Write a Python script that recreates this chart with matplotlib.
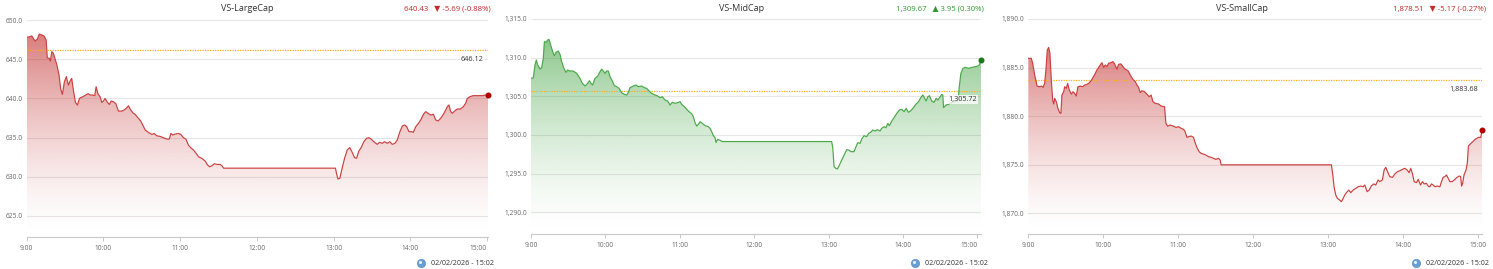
import numpy as np
import matplotlib
matplotlib.use("Agg")
import matplotlib.pyplot as plt
from matplotlib.patches import Polygon
from matplotlib.lines import Line2D

plt.rcParams['font.family'] = ['Open Sans', 'DejaVu Sans']

# ---------------- data (minutes after 09:00, index value) ----------------
names = ["VS-LargeCap", "VS-MidCap", "VS-SmallCap"]
last_price = [640.43, 1309.67, 1878.51]
change = [-5.69, 3.95, -5.17]
change_pct = [-0.88, 0.30, -0.27]
prev_close = [646.12, 1305.72, 1883.68]
y_ticks = [[625, 630, 635, 640, 645, 650],
           [1290, 1295, 1300, 1305, 1310, 1315],
           [1870, 1875, 1880, 1885, 1890]]
y_bottom = [622.32, 1287.19, 1867.84]
x_tick_labels = ["9:00", "10:00", "11:00", "12:00", "13:00", "14:00", "15:00"]
x_tick_minutes = [0, 60, 120, 180, 240, 300, 360]
timestamp = "02/02/2026 - 15:02"

largecap_points = [
    (0, 647.79), (2.5, 647.87), (4, 647.96), (6.5, 647.32), (8.4, 647.57), (9.8, 648.21),
    (11.8, 648.09), (13.6, 647.96), (15.2, 647.45), (16.1, 645.19), (17.7, 645.10), (18.5, 644.77),
    (19.6, 645.96), (20.9, 645.74), (22.1, 645.10), (23.5, 644.34), (25.3, 642.98), (26.6, 641.19),
    (27.9, 640.51), (29.5, 642.13), (31, 642.77), (32.6, 641.70), (33.9, 642.21), (35.2, 642.55),
    (36.5, 641.06), (38.1, 639.49), (39.7, 639.15), (41.2, 640.00), (44.4, 640.26), (46.9, 640.51),
    (48.2, 640.60), (49.6, 640.43), (51.7, 640.43), (53.2, 640.34), (54.3, 641.49), (55.7, 640.60),
    (57.4, 640.21), (58.7, 639.49), (60, 639.66), (61.3, 640.00), (63.2, 639.49), (64.7, 639.23),
    (66, 639.66), (67.9, 639.57), (69.7, 639.32), (71.8, 638.38), (74.4, 638.38), (76.5, 638.55),
    (78.3, 638.81), (79.6, 639.06), (80.9, 638.64), (83, 638.17), (84.8, 637.96), (87.5, 637.45),
    (89.2, 637.11), (90.8, 636.60), (92.7, 635.96), (95.3, 635.66), (97.9, 635.40), (99.7, 635.53),
    (101.7, 635.23), (104.4, 635.15), (107.1, 634.98), (109.6, 634.81), (111.5, 634.81), (112.8, 635.53),
    (114.3, 635.32), (116.1, 635.45), (118.8, 635.53), (120.5, 635.40), (122.7, 634.98), (124.5, 634.81),
    (126.5, 634.04), (128.4, 633.70), (130.5, 633.40), (132.6, 632.98), (134.4, 632.55), (137.1, 632.34),
    (139.6, 632.00), (141.5, 631.49), (143.1, 631.28), (144.8, 631.40), (146.7, 631.66), (148.8, 631.57),
    (151.4, 631.57), (152.7, 631.40), (154, 631.10),
    (241.5, 631.10), (242.3, 630.44), (243.4, 629.72), (244.9, 629.80), (246.7, 631.08), (248.6, 632.36),
    (250.7, 633.42), (252.7, 633.72), (254.6, 633.12), (256.4, 632.44), (258, 632.36), (259.8, 633.29),
    (261.6, 633.72), (263.7, 634.48), (265.8, 634.91), (267.6, 634.99), (269.4, 634.82), (271.5, 634.48),
    (274.1, 634.14), (276.2, 634.40), (278, 634.27), (279.9, 634.48), (282, 634.27), (284, 634.48),
    (285.9, 634.14), (288, 634.27), (289.8, 634.69), (291.9, 635.76), (293.8, 636.48), (295.6, 636.61),
    (297.2, 636.39), (299, 635.76), (300.8, 635.76), (302.4, 635.67), (304.3, 636.39), (306.4, 636.82),
    (308.2, 637.25), (310.3, 637.97), (312.1, 638.31), (314, 638.10), (316, 637.88), (318.1, 637.97),
    (319.9, 637.25), (321.7, 637.12), (323.8, 637.46), (325.9, 637.97), (327.7, 638.52), (329, 638.95),
    (330.3, 639.16), (331.6, 638.31), (332.9, 638.10), (334.7, 638.39), (336.8, 638.65), (339.4, 638.65),
    (341.5, 638.95), (343.3, 639.37), (344.6, 640.00), (346.7, 640.22), (349.3, 640.35), (352.5, 640.35),
    (356.4, 640.35), (359, 640.43), (360.8, 640.43),
]

midcap_points = [
    (0, 1307.32), (1.9, 1307.41), (3.2, 1309.05), (4.3, 1309.70), (5.4, 1309.05), (7.3, 1308.53),
    (8.6, 1308.70), (9.9, 1309.91), (10.8, 1312.07), (12.1, 1311.98), (13.4, 1312.28), (14.5, 1312.37),
    (15.9, 1311.64), (17.5, 1310.77), (18.8, 1310.26), (20.2, 1310.69), (22, 1310.86), (23.4, 1310.43),
    (24.7, 1309.48), (26.6, 1308.62), (28.2, 1308.10), (29.6, 1308.40), (31.5, 1308.27), (34.1, 1308.27),
    (36.8, 1307.97), (39.5, 1307.32), (41.4, 1306.68), (43.6, 1306.33), (45.7, 1306.68), (47.1, 1307.02),
    (48.4, 1306.68), (49.7, 1306.46), (51.6, 1307.32), (53.8, 1307.63), (55.7, 1308.19), (57, 1308.53),
    (58.3, 1308.27), (59.7, 1307.97), (61, 1308.27), (62.4, 1308.27), (63.7, 1307.54), (65.6, 1306.98),
    (67.2, 1306.38), (69.1, 1306.25), (71, 1306.03), (73.1, 1305.47), (75.3, 1305.25), (77.2, 1305.17),
    (78.5, 1305.51), (79.9, 1306.12), (82.5, 1306.33), (84.7, 1306.46), (86.6, 1306.25), (89.3, 1306.33),
    (91.4, 1306.12), (93.3, 1306.03), (95.2, 1305.69), (97.3, 1305.38), (100, 1305.17), (102.2, 1305.04),
    (104.1, 1304.82), (105.9, 1304.95), (108.1, 1304.52), (110.2, 1304.39), (112.1, 1303.87), (114, 1304.22),
    (116.2, 1304.09), (118.3, 1304.18), (120.2, 1304.31), (121.5, 1303.96), (123.7, 1303.66), (125.6, 1303.31),
    (127.5, 1303.01), (129.6, 1302.75), (130.9, 1302.36), (132.3, 1301.59), (133.6, 1301.16), (135, 1301.37),
    (136.3, 1301.72), (138.2, 1301.50), (140.4, 1301.20), (143, 1301.07), (144.4, 1300.86), (145.7, 1300.42),
    (147.1, 1299.91), (148.4, 1299.65), (149.2, 1299.04), (150.6, 1299.43), (152.5, 1299.30), (154.3, 1299.15),
    (242.5, 1299.15), (243.4, 1298.27), (244.4, 1295.90), (245.8, 1295.68), (247.1, 1295.60), (248.7, 1296.11),
    (250.6, 1296.76), (252.5, 1297.41), (254.6, 1298.10), (256.2, 1298.05), (258.1, 1297.84), (260.5, 1297.84),
    (262.1, 1298.48), (263.5, 1299.00), (265.4, 1298.92), (266.7, 1299.48), (268.6, 1299.91), (270.7, 1299.78),
    (272.3, 1300.21), (273.9, 1300.34), (275.6, 1300.64), (277.4, 1300.51), (279.3, 1300.68), (281.5, 1300.51),
    (282.8, 1300.86), (284.7, 1301.07), (286.3, 1300.94), (287.7, 1301.50), (289, 1301.20), (290.9, 1301.80),
    (292.8, 1302.24), (295, 1302.80), (297.1, 1303.23), (299, 1303.31), (300.9, 1303.01), (302.5, 1303.44),
    (304.4, 1302.93), (306.3, 1303.14), (308.4, 1303.53), (310.3, 1303.96), (312.5, 1304.31), (314.3, 1304.82),
    (316, 1305.17), (317.3, 1304.82), (318.6, 1304.39), (320, 1304.95), (321.3, 1305.08), (323.2, 1304.39),
    (325.1, 1304.22), (326.7, 1304.74), (328.1, 1304.52), (330, 1304.95), (331.3, 1305.25), (332.1, 1305.17),
    (332.7, 1303.53), (334.6, 1303.87), (336.7, 1303.96), (339.4, 1304.22), (342.1, 1304.31), (344.3, 1304.39),
    (345.4, 1306.25), (346.7, 1307.97), (348.3, 1308.62), (350.2, 1308.75), (352.9, 1308.62), (355.6, 1308.75),
    (358.3, 1308.83), (361, 1308.96), (361.8, 1309.14), (362.9, 1309.67),
]

smallcap_points = [
    (0, 1885.95), (2.4, 1885.95), (3.5, 1885.43), (5.1, 1884.23), (7, 1883.09), (8.8, 1883.02),
    (10.4, 1883.09), (11.8, 1882.96), (13.1, 1883.37), (14.1, 1884.75), (15.2, 1886.80), (16.3, 1887.08),
    (17.3, 1886.46), (18.4, 1883.71), (19.5, 1881.65), (20.3, 1881.24), (21.1, 1881.82), (22.4, 1881.48),
    (23.7, 1880.79), (25.1, 1880.34), (26.1, 1880.27), (26.9, 1882.16), (28.3, 1882.50), (29.1, 1883.02),
    (30.4, 1882.85), (31.5, 1883.37), (32.8, 1882.68), (34.4, 1882.26), (35.7, 1882.50), (37.1, 1882.33),
    (38.4, 1882.06), (39.7, 1883.02), (41.6, 1883.09), (43.5, 1883.02), (45.1, 1883.20), (46.9, 1883.26),
    (48.3, 1883.37), (49.6, 1883.54), (50.9, 1883.78), (52.2, 1884.06), (53.6, 1884.40), (54.9, 1884.75),
    (56.3, 1885.02), (57.6, 1885.26), (58.9, 1885.50), (60.3, 1885.02), (61.6, 1885.26), (62.9, 1885.09),
    (64.2, 1885.43), (66.1, 1885.50), (67.7, 1885.61), (69.1, 1885.37), (70.9, 1884.82), (72.2, 1885.33),
    (74.1, 1885.37), (75.7, 1885.09), (77.6, 1884.82), (79.7, 1884.68), (81.6, 1884.23), (83.7, 1883.78),
    (85.6, 1883.54), (86.9, 1883.20), (88.2, 1882.96), (89.6, 1882.41), (90.9, 1882.61), (93, 1882.50),
    (94.9, 1882.26), (96.7, 1881.99), (98.3, 1882.16), (99.7, 1881.48), (101.5, 1881.31), (104.2, 1881.24),
    (106.3, 1881.03), (109, 1880.96), (110.1, 1879.24), (111.4, 1878.96), (113.5, 1879.07), (116.2, 1878.96),
    (118.1, 1878.83), (120.2, 1878.90), (122.3, 1878.73), (124.2, 1878.63), (125.5, 1878.38), (126.9, 1877.80),
    (128.2, 1877.87), (130.3, 1877.94), (132.2, 1877.80), (133.5, 1877.25), (134.9, 1876.77), (136.7, 1876.32),
    (138.3, 1876.15), (140.2, 1876.08), (142, 1875.98), (144.2, 1875.81), (146.3, 1875.74), (148.2, 1875.64),
    (150.1, 1875.53), (152.2, 1875.64), (153.5, 1875.46), (154.3, 1874.97),
    (242.5, 1874.97), (243.8, 1873.75), (244.6, 1872.71), (246, 1871.86), (247.3, 1871.51), (249.2, 1871.34),
    (250.5, 1871.17), (251.9, 1871.51), (253.2, 1871.86), (254.5, 1872.10), (256.4, 1872.37), (258, 1872.10),
    (259.9, 1872.37), (262, 1872.54), (263.9, 1872.71), (266, 1872.78), (267.9, 1872.71), (269.2, 1872.89),
    (271.1, 1872.20), (272.7, 1872.37), (274.6, 1872.82), (276.4, 1873.00), (278, 1872.89), (279.9, 1873.41),
    (281.2, 1873.24), (283.3, 1873.41), (284.7, 1874.44), (286, 1874.71), (287.4, 1874.27), (289.2, 1873.75),
    (291.4, 1873.68), (293.2, 1874.02), (295.4, 1874.27), (297.2, 1874.36), (299.4, 1874.50), (301.2, 1874.61),
    (303.1, 1874.44), (304.7, 1874.16), (306, 1874.61), (307.4, 1874.02), (308.7, 1873.24), (310.6, 1873.13),
    (311.9, 1873.48), (313.8, 1872.89), (315.4, 1873.24), (316.7, 1873.00), (318.6, 1873.06), (319.9, 1872.78),
    (321.3, 1872.71), (322.6, 1873.00), (323.9, 1872.89), (325.3, 1872.71), (327.1, 1872.78), (329.3, 1872.71),
    (330.6, 1873.24), (331.9, 1873.68), (333.3, 1873.75), (334.6, 1873.92), (336, 1873.58), (337.3, 1873.24),
    (339.2, 1873.24), (340.8, 1873.41), (342.7, 1873.65), (344.8, 1873.82), (345.9, 1873.75), (346.7, 1872.78),
    (347.5, 1873.06), (348.6, 1873.92), (350.2, 1874.44), (351.3, 1875.19), (352.1, 1876.91), (353.4, 1877.08),
    (355.6, 1877.35), (357.4, 1877.59), (360.1, 1877.80), (362, 1877.80), (363, 1878.51),
]

series_points = [largecap_points, midcap_points, smallcap_points]

# ---------------- layout / styles ----------------
W, H = 1493, 269
fig = plt.figure(figsize=(W / 100, H / 100), dpi=100)

# panel geometry in pixels: plot left, right, top, bottom, panel right edge, header y
panels = [
    dict(l=26.7, r=488.0, t=20.0, b=237.0, edge=491.0, center=247.0, foot=494.0, label_shift=True),
    dict(l=531.0, r=981.0, t=19.0, b=234.0, edge=984.0, center=742.0, foot=988.0, label_shift=True),
    dict(l=1028.3, r=1482.0, t=19.0, b=234.0, edge=1486.0, center=1242.0, foot=1489.0, label_shift=False),
]

RED_LINE = "#cc4040"
RED_FILL = (195, 45, 45)
RED_TXT = "#c62828"
RED_DOT = "#b00000"
GREEN_LINE = "#4aa84a"
GREEN_FILL = (70, 165, 70)
GREEN_TXT = "#2e9a2e"
GREEN_DOT = "#187a18"
GRID = "#e6e6e6"
AXIS = "#c8c8c8"
TICK_TXT = "#666666"
REF = "#ffac1c"


def gradient_fill(ax, x, y, rgb, ylo, amax=0.62, power=1.5):
    ytop = max(y)
    verts = [(x[0], ylo)] + list(zip(x, y)) + [(x[-1], ylo)]
    poly = Polygon(verts, closed=True, facecolor="none", edgecolor="none")
    ax.add_patch(poly)
    n = 256
    t = np.linspace(0, 1, n)
    img = np.zeros((n, 1, 4))
    img[:, 0, :3] = np.array(rgb) / 255.0
    img[:, 0, 3] = amax * t ** power
    im = ax.imshow(img, aspect="auto", extent=[x[0], x[-1], ylo, ytop],
                   origin="lower", zorder=1, interpolation="bilinear")
    im.set_clip_path(poly)


for i, g in enumerate(panels):
    ax = fig.add_axes([g["l"] / W, 1 - g["b"] / H, (g["r"] - g["l"]) / W, (g["b"] - g["t"]) / H])
    pts = series_points[i]
    x = [p[0] for p in pts]
    y = [p[1] for p in pts]
    up = change[i] >= 0
    lc = GREEN_LINE if up else RED_LINE
    fc = GREEN_FILL if up else RED_FILL
    dc = GREEN_DOT if up else RED_DOT
    tc = GREEN_TXT if up else RED_TXT

    gradient_fill(ax, x, y, fc, y_bottom[i])
    ax.plot(x, y, color=lc, lw=0.85, zorder=3, solid_joinstyle="round")
    ax.plot([x[-1]], [y[-1]], "o", color=dc, ms=3.3, zorder=4, clip_on=False)

    # previous close reference line
    ax.axhline(prev_close[i], color=REF, lw=0.9, ls=(0, (1, 1)), zorder=2)
    ax.annotate(f"{prev_close[i]:,.2f}", xy=(1, prev_close[i]),
                xycoords=("axes fraction", "data"), xytext=(-3, -6.3),
                textcoords="offset points", ha="right", va="center",
                fontsize=5.2, color="#333333", zorder=5,
                bbox=dict(boxstyle="square,pad=0.1", fc="white", ec="none", alpha=0.75))

    ax.set_xlim(x[0], x[-1])
    ax.set_ylim(y_bottom[i], y_ticks[i][-1])
    ax.set_yticks(y_ticks[i])
    ax.set_yticklabels([f"{v:,.1f}" for v in y_ticks[i]])
    ax.set_xticks(x_tick_minutes)
    ax.set_xticklabels(x_tick_labels)
    ax.grid(axis="y", color=GRID, lw=0.8, zorder=0)
    ax.set_axisbelow(True)
    for s in ["top", "right", "left"]:
        ax.spines[s].set_visible(False)
    ax.spines["bottom"].set_color(AXIS)
    ax.spines["bottom"].set_linewidth(0.8)
    ax.spines["bottom"].set_zorder(2)
    ax.tick_params(axis="y", length=0, pad=2.8, labelsize=4.8, labelcolor=TICK_TXT)
    ax.tick_params(axis="x", length=3, width=0.7, color=AXIS, pad=3.0,
                   labelsize=4.8, labelcolor=TICK_TXT)
    if g["label_shift"]:
        ax.get_xticklabels()[-1].set_horizontalalignment("right")

    # headers
    fig.text(g["center"] / W, 1 - 8.5 / H, names[i], ha="center", va="center",
             fontsize=6.5, color="#333333")
    arrow = "\u25B2" if up else "\u25BC"
    hdr = f"{last_price[i]:,.2f}   {arrow} {change[i]:.2f} ({change_pct[i]:.2f}%)"
    fig.text(g["edge"] / W, 1 - 8.5 / H, hdr, ha="right", va="center",
             fontsize=5.6, color=tc)

    # footer timestamp with globe icon
    ft = fig.text(g["foot"] / W, 1 - 263.3 / H, timestamp, ha="right", va="center",
                  fontsize=5.2, color="#333333")
    fig.add_artist(Line2D([(g["foot"] - 73) / W], [1 - 263.3 / H], marker="o",
                          ms=6.0, color="#6a9fd4", mec="#4f86c0", mew=0.4,
                          transform=fig.transFigure))
    fig.add_artist(Line2D([(g["foot"] - 74.2) / W], [1 - 262.3 / H], marker="o",
                          ms=2.2, color="#e8f1fa", mew=0,
                          transform=fig.transFigure))

fig.savefig("out.png", dpi=100, facecolor="white")
